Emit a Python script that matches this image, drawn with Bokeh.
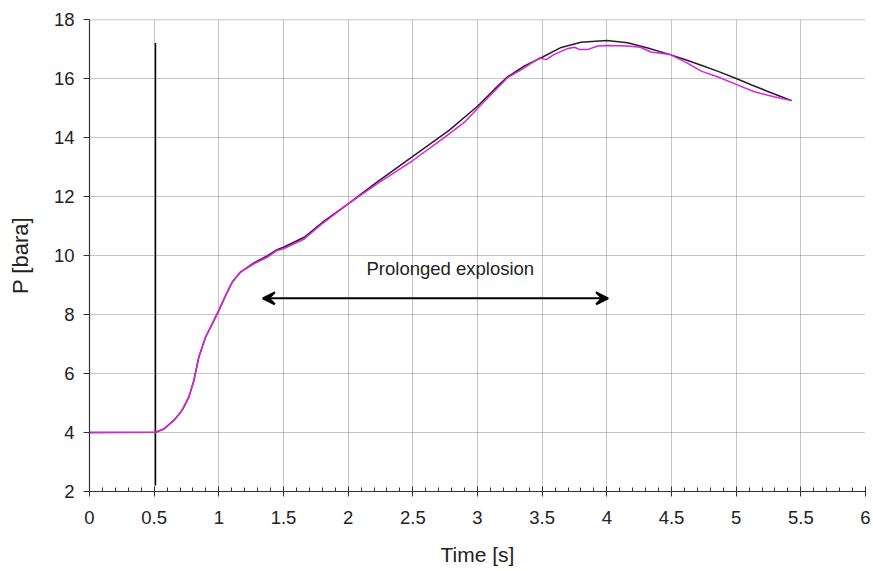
from bokeh.plotting import figure
from bokeh.models import (Range1d, Span, Arrow, VeeHead, Label, FixedTicker,
                          LinearAxis)
from bokeh.embed import file_html
from bokeh.resources import INLINE

# Pressure traces (time in s, pressure in bara)
t_black = [0, 0.51, 0.575, 0.652, 0.716, 0.768, 0.807, 0.845, 0.897, 0.949, 1.0,
           1.052, 1.104, 1.168, 1.271, 1.374, 1.45, 1.5, 1.66, 1.8, 2.0, 2.22, 2.5,
           2.78, 3.0, 3.13, 3.23, 3.36, 3.5, 3.64, 3.8, 4.0, 4.16, 4.31, 4.49, 4.62,
           4.73, 4.86, 5.0, 5.12, 5.24, 5.34, 5.43]
p_black = [4.0, 4.01, 4.12, 4.41, 4.75, 5.20, 5.76, 6.55, 7.23, 7.68, 8.14,
           8.64, 9.10, 9.44, 9.75, 9.99, 10.2, 10.28, 10.62, 11.12, 11.75, 12.48, 13.36,
           14.24, 15.06, 15.63, 16.05, 16.42, 16.72, 17.04, 17.23, 17.29, 17.21, 17.04,
           16.81, 16.62, 16.45, 16.24, 16.0, 15.78, 15.57, 15.4, 15.25]

t_magenta = [0, 0.51, 0.575, 0.652, 0.716, 0.768, 0.807, 0.845, 0.897, 0.949, 1.0,
             1.052, 1.104, 1.168, 1.271, 1.374, 1.45, 1.5, 1.66, 1.8, 2.0, 2.22, 2.5,
             2.74, 2.9, 3.0, 3.13, 3.23, 3.34, 3.48, 3.53, 3.59, 3.70, 3.75, 3.79, 3.85,
             3.93, 4.0, 4.16, 4.26, 4.34, 4.49, 4.62, 4.73, 4.86, 5.0, 5.14, 5.3, 5.43]
p_magenta = [4.0, 4.01, 4.12, 4.41, 4.75, 5.20, 5.76, 6.55, 7.23, 7.68, 8.14,
             8.64, 9.10, 9.44, 9.72, 9.94, 10.17, 10.23, 10.56, 11.08, 11.75, 12.42, 13.22,
             13.99, 14.52, 14.98, 15.57, 16.02, 16.3, 16.70, 16.64, 16.81, 17.02, 17.06,
             16.98, 16.98, 17.10, 17.12, 17.10, 17.06, 16.90, 16.81, 16.53, 16.25, 16.05,
             15.80, 15.55, 15.37, 15.25]

# Ignition marker and annotation
ignition_t = 0.51
ignition_p = [2.2, 17.2]
annot_text = "Prolonged explosion"
annot_pos = (2.79, 9.55)
arrow_t = [1.34, 4.01]
arrow_p = 8.55

x_ticks = [0, 0.5, 1, 1.5, 2, 2.5, 3, 3.5, 4, 4.5, 5, 5.5, 6]
y_ticks = [2, 4, 6, 8, 10, 12, 14, 16, 18]

FONT = "Liberation Sans"

p = figure(width=873, height=571, output_backend="svg", toolbar_location=None,
           x_range=Range1d(0, 6), y_range=Range1d(2, 18),
           x_axis_location=None, y_axis_location=None,
           min_border_left=89, min_border_right=8, min_border_top=19,
           min_border_bottom=80)
p.outline_line_color = None
p.background_fill_color = "white"

xaxis = LinearAxis(ticker=FixedTicker(ticks=x_ticks,
                                      minor_ticks=[i / 10 for i in range(61)]))
xaxis.axis_label = "Time [s]"
xaxis.major_tick_in = 5
xaxis.major_tick_out = 5
xaxis.minor_tick_in = 4
xaxis.minor_tick_out = 0
xaxis.major_label_standoff = 14
xaxis.axis_label_standoff = 16
xaxis.axis_label_text_font_size = "21px"
p.add_layout(xaxis, "below")

yaxis = LinearAxis(ticker=FixedTicker(ticks=y_ticks))
yaxis.axis_label = "P [bara]"
yaxis.major_tick_in = 0
yaxis.major_tick_out = 6
yaxis.minor_tick_in = 0
yaxis.minor_tick_out = 0
yaxis.major_label_standoff = 9
yaxis.axis_label_standoff = 18
yaxis.axis_label_text_font_size = "22px"
p.add_layout(yaxis, "left")

for ax in (xaxis, yaxis):
    ax.axis_line_color = "#333333"
    ax.axis_line_width = 1.2
    ax.major_tick_line_color = "#333333"
    ax.minor_tick_line_color = "#333333"
    ax.major_label_text_font = FONT
    ax.major_label_text_font_size = "18.5px"
    ax.major_label_text_color = "#222222"
    ax.axis_label_text_font = FONT
    ax.axis_label_text_font_style = "normal"
    ax.axis_label_text_color = "#222222"

p.xgrid.ticker = FixedTicker(ticks=x_ticks)
p.ygrid.ticker = FixedTicker(ticks=y_ticks)
for g in (p.xgrid, p.ygrid):
    g.grid_line_color = "#8a8a8a"
    g.grid_line_dash = "1 1"
    g.grid_line_width = 1

p.add_layout(Span(location=18, dimension="width", line_color="#b0b0b0",
                  line_width=1.5))

p.segment(x0=[ignition_t], y0=[ignition_p[0]], x1=[ignition_t], y1=[ignition_p[1]],
          line_color="black", line_width=1.5)

p.line(t_black, p_black, line_color="#222222", line_width=1.5)
p.line(t_magenta, p_magenta, line_color="#e020e0", line_width=1.5)

p.add_layout(Arrow(x_start=arrow_t[0], y_start=arrow_p, x_end=arrow_t[1], y_end=arrow_p,
                   line_color="black", line_width=2,
                   start=VeeHead(size=12, line_color="black", fill_color="black",
                                 line_width=2),
                   end=VeeHead(size=12, line_color="black", fill_color="black",
                               line_width=2)))

p.add_layout(Label(x=annot_pos[0], y=annot_pos[1], text=annot_text,
                   text_align="center", text_baseline="middle",
                   text_font=FONT, text_font_size="18.5px", text_color="#222222"))

open("out.html", "w").write(file_html(p, INLINE))
